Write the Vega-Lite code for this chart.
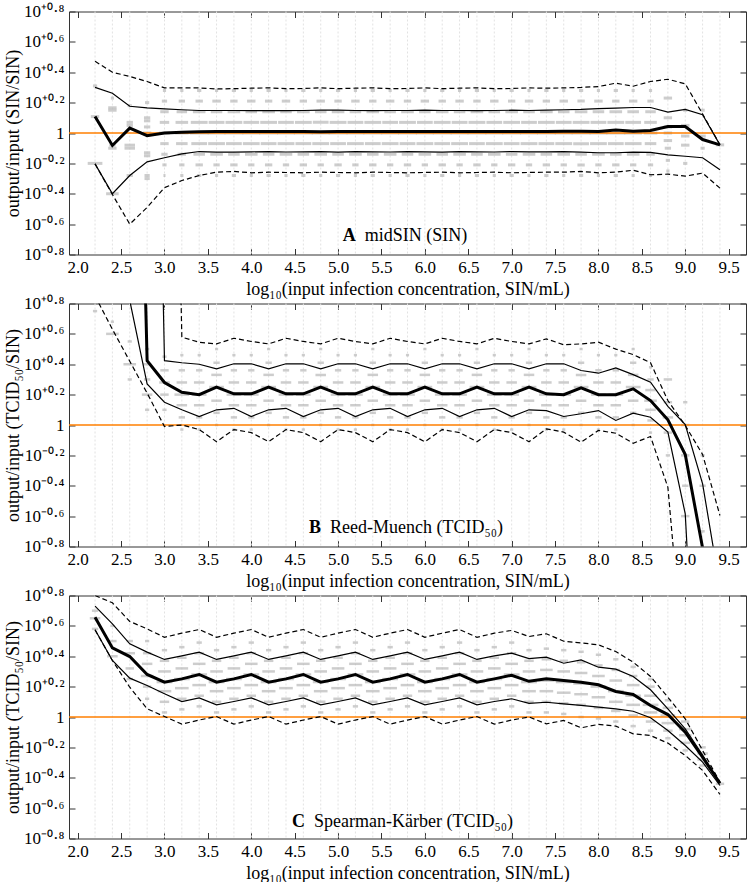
{
"$schema": "https://vega.github.io/schema/vega-lite/v6.json",
"background": "white",
"padding": {"left": 3, "top": 1.5, "right": 1, "bottom": 0},
"bounds": "flush",
"spacing": 49,
"config": {
  "font": "Liberation Serif",
  "view": {"stroke": "#333333", "strokeWidth": 1},
  "axis": {"domain": false, "grid": false, "tickColor": "#333333", "tickSize": -6, "labelFontSize": 17, "titleFontSize": 18, "labelColor": "#000000", "titleColor": "#000000", "titleFontWeight": "normal", "labelFont": "Liberation Serif", "titleFont": "Liberation Serif", "labelOverlap": false, "labelFlush": false}
},
"datasets": {
"L": [
{"p":"A","x":2.2,"a":-0.203,"b":-0.203,"m":0.108,"c":0.3,"d":0.472},
{"p":"A","x":2.4,"a":-0.405,"b":-0.4,"m":-0.082,"c":0.262,"d":0.4},
{"p":"A","x":2.6,"a":-0.6,"b":-0.28,"m":0.032,"c":0.176,"d":0.372},
{"p":"A","x":2.8,"a":-0.49,"b":-0.19,"m":-0.018,"c":0.166,"d":0.339},
{"p":"A","x":3.0,"a":-0.36,"b":-0.163,"m":0.0,"c":0.159,"d":0.297},
{"p":"A","x":3.2,"a":-0.313,"b":-0.137,"m":0.005,"c":0.153,"d":0.297},
{"p":"A","x":3.4,"a":-0.28,"b":-0.122,"m":0.008,"c":0.148,"d":0.297},
{"p":"A","x":3.6,"a":-0.258,"b":-0.126,"m":0.01,"c":0.148,"d":0.29},
{"p":"A","x":3.8,"a":-0.253,"b":-0.126,"m":0.01,"c":0.148,"d":0.292},
{"p":"A","x":4.0,"a":-0.262,"b":-0.124,"m":0.01,"c":0.147,"d":0.295},
{"p":"A","x":4.2,"a":-0.258,"b":-0.122,"m":0.01,"c":0.147,"d":0.297},
{"p":"A","x":4.4,"a":-0.26,"b":-0.125,"m":0.01,"c":0.147,"d":0.292},
{"p":"A","x":4.6,"a":-0.262,"b":-0.124,"m":0.01,"c":0.148,"d":0.293},
{"p":"A","x":4.8,"a":-0.258,"b":-0.122,"m":0.009,"c":0.15,"d":0.297},
{"p":"A","x":5.0,"a":-0.26,"b":-0.126,"m":0.01,"c":0.15,"d":0.292},
{"p":"A","x":5.2,"a":-0.262,"b":-0.122,"m":0.01,"c":0.148,"d":0.295},
{"p":"A","x":5.4,"a":-0.258,"b":-0.124,"m":0.01,"c":0.147,"d":0.297},
{"p":"A","x":5.6,"a":-0.26,"b":-0.125,"m":0.01,"c":0.148,"d":0.292},
{"p":"A","x":5.8,"a":-0.262,"b":-0.122,"m":0.01,"c":0.148,"d":0.293},
{"p":"A","x":6.0,"a":-0.26,"b":-0.124,"m":0.01,"c":0.15,"d":0.297},
{"p":"A","x":6.2,"a":-0.258,"b":-0.126,"m":0.01,"c":0.148,"d":0.292},
{"p":"A","x":6.4,"a":-0.262,"b":-0.122,"m":0.01,"c":0.148,"d":0.295},
{"p":"A","x":6.6,"a":-0.26,"b":-0.124,"m":0.01,"c":0.147,"d":0.297},
{"p":"A","x":6.8,"a":-0.258,"b":-0.125,"m":0.01,"c":0.148,"d":0.292},
{"p":"A","x":7.0,"a":-0.262,"b":-0.122,"m":0.01,"c":0.15,"d":0.293},
{"p":"A","x":7.2,"a":-0.26,"b":-0.124,"m":0.01,"c":0.148,"d":0.297},
{"p":"A","x":7.4,"a":-0.258,"b":-0.124,"m":0.01,"c":0.15,"d":0.295},
{"p":"A","x":7.6,"a":-0.258,"b":-0.122,"m":0.012,"c":0.153,"d":0.297},
{"p":"A","x":7.8,"a":-0.253,"b":-0.126,"m":0.012,"c":0.155,"d":0.3},
{"p":"A","x":8.0,"a":-0.262,"b":-0.13,"m":0.01,"c":0.16,"d":0.306},
{"p":"A","x":8.2,"a":-0.258,"b":-0.13,"m":0.02,"c":0.164,"d":0.328},
{"p":"A","x":8.4,"a":-0.245,"b":-0.126,"m":0.012,"c":0.168,"d":0.308},
{"p":"A","x":8.6,"a":-0.275,"b":-0.128,"m":0.016,"c":0.168,"d":0.339},
{"p":"A","x":8.8,"a":-0.271,"b":-0.144,"m":0.043,"c":0.137,"d":0.354},
{"p":"A","x":9.0,"a":-0.284,"b":-0.153,"m":0.043,"c":0.155,"d":0.324},
{"p":"A","x":9.2,"a":-0.264,"b":-0.163,"m":-0.043,"c":0.12,"d":0.125},
{"p":"A","x":9.4,"a":-0.363,"b":-0.242,"m":-0.078,"c":-0.078,"d":-0.078},
{"p":"B","x":2.2,"a":0.85,"b":3,"m":6,"c":6,"d":6},
{"p":"B","x":2.4,"a":0.63,"b":2.5,"m":6,"c":6,"d":6},
{"p":"B","x":2.6,"a":0.42,"b":0.82,"m":5,"c":6,"d":6},
{"p":"B","x":2.8,"a":0.21,"b":0.27,"m":0.424,"c":6,"d":6},
{"p":"B","x":3.0,"a":-0.01,"b":0.15,"m":0.28,"c":0.424,"d":6},
{"p":"B","x":3.2,"a":0.0,"b":0.1,"m":0.215,"c":0.41,"d":0.578},
{"p":"B","x":3.4,"a":-0.03,"b":0.056,"m":0.2,"c":0.4,"d":0.545},
{"p":"B","x":3.6,"a":-0.11,"b":0.1,"m":0.25,"c":0.37,"d":0.534},
{"p":"B","x":3.8,"a":-0.03,"b":0.11,"m":0.205,"c":0.403,"d":0.571},
{"p":"B","x":4.0,"a":-0.05,"b":0.056,"m":0.205,"c":0.403,"d":0.55},
{"p":"B","x":4.2,"a":-0.11,"b":0.1,"m":0.249,"c":0.37,"d":0.534},
{"p":"B","x":4.4,"a":-0.03,"b":0.11,"m":0.205,"c":0.403,"d":0.571},
{"p":"B","x":4.6,"a":-0.05,"b":0.056,"m":0.205,"c":0.403,"d":0.55},
{"p":"B","x":4.8,"a":-0.11,"b":0.1,"m":0.249,"c":0.37,"d":0.534},
{"p":"B","x":5.0,"a":-0.03,"b":0.11,"m":0.205,"c":0.403,"d":0.571},
{"p":"B","x":5.2,"a":-0.05,"b":0.056,"m":0.205,"c":0.403,"d":0.55},
{"p":"B","x":5.4,"a":-0.11,"b":0.1,"m":0.249,"c":0.37,"d":0.534},
{"p":"B","x":5.6,"a":-0.03,"b":0.11,"m":0.205,"c":0.403,"d":0.571},
{"p":"B","x":5.8,"a":-0.05,"b":0.056,"m":0.205,"c":0.403,"d":0.55},
{"p":"B","x":6.0,"a":-0.11,"b":0.1,"m":0.249,"c":0.37,"d":0.534},
{"p":"B","x":6.2,"a":-0.03,"b":0.11,"m":0.205,"c":0.403,"d":0.571},
{"p":"B","x":6.4,"a":-0.05,"b":0.056,"m":0.205,"c":0.403,"d":0.55},
{"p":"B","x":6.6,"a":-0.11,"b":0.1,"m":0.249,"c":0.37,"d":0.534},
{"p":"B","x":6.8,"a":-0.03,"b":0.11,"m":0.205,"c":0.403,"d":0.571},
{"p":"B","x":7.0,"a":-0.05,"b":0.056,"m":0.205,"c":0.403,"d":0.55},
{"p":"B","x":7.2,"a":-0.11,"b":0.1,"m":0.249,"c":0.37,"d":0.534},
{"p":"B","x":7.4,"a":-0.025,"b":0.095,"m":0.205,"c":0.403,"d":0.567},
{"p":"B","x":7.6,"a":-0.047,"b":0.056,"m":0.2,"c":0.403,"d":0.528},
{"p":"B","x":7.8,"a":-0.113,"b":0.074,"m":0.245,"c":0.359,"d":0.534},
{"p":"B","x":8.0,"a":-0.036,"b":0.095,"m":0.2,"c":0.341,"d":0.545},
{"p":"B","x":8.2,"a":-0.054,"b":0.03,"m":0.2,"c":0.376,"d":0.5},
{"p":"B","x":8.4,"a":-0.12,"b":0.078,"m":0.238,"c":0.332,"d":0.464},
{"p":"B","x":8.6,"a":-0.076,"b":0.051,"m":0.161,"c":0.282,"d":0.41},
{"p":"B","x":8.8,"a":-0.41,"b":-0.047,"m":0.034,"c":0.122,"d":0.161},
{"p":"B","x":9.0,"a":-1.7,"b":-0.585,"m":-0.194,"c":0.003,"d":-0.003},
{"p":"B","x":9.2,"a":-4,"b":-2.7,"m":-0.81,"c":-0.387,"d":-0.194},
{"p":"B","x":9.4,"a":-6,"b":-5,"m":-2,"c":-1.07,"d":-0.596},
{"p":"C","x":2.2,"a":0.574,"b":0.574,"m":0.657,"c":0.73,"d":0.8},
{"p":"C","x":2.4,"a":0.372,"b":0.372,"m":0.455,"c":0.613,"d":0.752},
{"p":"C","x":2.6,"a":0.196,"b":0.256,"m":0.398,"c":0.482,"d":0.629},
{"p":"C","x":2.8,"a":0.054,"b":0.207,"m":0.28,"c":0.427,"d":0.58},
{"p":"C","x":3.0,"a":0.003,"b":0.153,"m":0.229,"c":0.379,"d":0.525},
{"p":"C","x":3.2,"a":-0.047,"b":0.102,"m":0.251,"c":0.403,"d":0.552},
{"p":"C","x":3.4,"a":-0.02,"b":0.126,"m":0.28,"c":0.427,"d":0.576},
{"p":"C","x":3.6,"a":0.003,"b":0.08,"m":0.229,"c":0.379,"d":0.525},
{"p":"C","x":3.8,"a":-0.047,"b":0.102,"m":0.251,"c":0.403,"d":0.552},
{"p":"C","x":4.0,"a":-0.02,"b":0.126,"m":0.28,"c":0.427,"d":0.576},
{"p":"C","x":4.2,"a":0.003,"b":0.08,"m":0.229,"c":0.379,"d":0.525},
{"p":"C","x":4.4,"a":-0.047,"b":0.102,"m":0.251,"c":0.403,"d":0.552},
{"p":"C","x":4.6,"a":-0.02,"b":0.126,"m":0.28,"c":0.427,"d":0.576},
{"p":"C","x":4.8,"a":0.003,"b":0.08,"m":0.229,"c":0.379,"d":0.525},
{"p":"C","x":5.0,"a":-0.047,"b":0.102,"m":0.251,"c":0.403,"d":0.552},
{"p":"C","x":5.2,"a":-0.02,"b":0.126,"m":0.28,"c":0.427,"d":0.576},
{"p":"C","x":5.4,"a":0.003,"b":0.08,"m":0.229,"c":0.379,"d":0.525},
{"p":"C","x":5.6,"a":-0.047,"b":0.102,"m":0.251,"c":0.403,"d":0.552},
{"p":"C","x":5.8,"a":-0.02,"b":0.126,"m":0.28,"c":0.427,"d":0.576},
{"p":"C","x":6.0,"a":0.003,"b":0.08,"m":0.229,"c":0.379,"d":0.525},
{"p":"C","x":6.2,"a":-0.047,"b":0.102,"m":0.251,"c":0.403,"d":0.552},
{"p":"C","x":6.4,"a":-0.02,"b":0.126,"m":0.28,"c":0.427,"d":0.576},
{"p":"C","x":6.6,"a":0.003,"b":0.08,"m":0.229,"c":0.379,"d":0.525},
{"p":"C","x":6.8,"a":-0.047,"b":0.102,"m":0.251,"c":0.403,"d":0.552},
{"p":"C","x":7.0,"a":-0.02,"b":0.12,"m":0.275,"c":0.42,"d":0.57},
{"p":"C","x":7.2,"a":0.0,"b":0.09,"m":0.235,"c":0.385,"d":0.53},
{"p":"C","x":7.4,"a":-0.045,"b":0.097,"m":0.251,"c":0.394,"d":0.548},
{"p":"C","x":7.6,"a":-0.023,"b":0.087,"m":0.24,"c":0.354,"d":0.499},
{"p":"C","x":7.8,"a":-0.071,"b":0.076,"m":0.229,"c":0.376,"d":0.488},
{"p":"C","x":8.0,"a":-0.049,"b":0.065,"m":0.212,"c":0.328,"d":0.475},
{"p":"C","x":8.2,"a":-0.06,"b":0.054,"m":0.168,"c":0.315,"d":0.431},
{"p":"C","x":8.4,"a":-0.111,"b":0.038,"m":0.148,"c":0.267,"d":0.361},
{"p":"C","x":8.6,"a":-0.122,"b":-0.005,"m":0.076,"c":0.179,"d":0.267},
{"p":"C","x":8.8,"a":-0.172,"b":-0.089,"m":0.016,"c":0.054,"d":0.13},
{"p":"C","x":9.0,"a":-0.253,"b":-0.188,"m":-0.1,"c":-0.078,"d":-0.012},
{"p":"C","x":9.2,"a":-0.352,"b":-0.297,"m":-0.265,"c":-0.25,"d":-0.22},
{"p":"C","x":9.4,"a":-0.51,"b":-0.451,"m":-0.436,"c":-0.436,"d":-0.429}
],
"T": [
{"p":"A","x":5.25,"y":-0.68,"b":"A","t":"midSIN (SIN)"},
{"p":"B","x":4.85,"y":-0.675,"b":"B","t":"Reed-Muench (TCID₅₀)"},
{"p":"C","x":4.665,"y":-0.69,"b":"C","t":"Spearman-Kärber (TCID₅₀)"}
],
"dA": [
{"x":2.2,"y":0.31,"n":4},{"x":2.2,"y":0.108,"n":8},{"x":2.2,"y":-0.2,"n":14},
{"x":2.4,"y":0.23,"n":3},{"x":2.4,"y":0.166,"n":8},{"x":2.4,"y":0.15,"n":8},{"x":2.4,"y":-0.08,"n":6},{"x":2.4,"y":-0.1,"n":8},{"x":2.4,"y":-0.4,"n":12},
{"x":2.6,"y":0.18,"n":4},{"x":2.6,"y":0.07,"n":6},{"x":2.6,"y":0.05,"n":6},{"x":2.6,"y":-0.08,"n":10},{"x":2.6,"y":-0.1,"n":10},{"x":2.6,"y":-0.28,"n":6},
{"x":2.8,"y":0.2,"n":4},{"x":2.8,"y":0.1,"n":6},{"x":2.8,"y":0.08,"n":6},{"x":2.8,"y":0.04,"n":6},{"x":2.8,"y":0,"n":8},{"x":2.8,"y":-0.13,"n":6},{"x":2.8,"y":-0.15,"n":6},{"x":2.8,"y":-0.28,"n":5},{"x":2.8,"y":-0.3,"n":5},
{"x":3.0,"y":-0.28,"n":2},{"x":3.0,"y":-0.21,"n":4},{"x":3.0,"y":-0.14,"n":6},{"x":3.0,"y":-0.07,"n":8},{"x":3.0,"y":0,"n":10},{"x":3.0,"y":0.07,"n":9},{"x":3.0,"y":0.14,"n":8},{"x":3.0,"y":0.21,"n":5},{"x":3.0,"y":0.28,"n":3},
{"x":3.2,"y":-0.28,"n":3},{"x":3.2,"y":-0.21,"n":5},{"x":3.2,"y":-0.14,"n":8},{"x":3.2,"y":-0.07,"n":11},{"x":3.2,"y":0,"n":13},{"x":3.2,"y":0.07,"n":12},{"x":3.2,"y":0.14,"n":10},{"x":3.2,"y":0.21,"n":6},{"x":3.2,"y":0.28,"n":3},
{"x":3.4,"y":-0.28,"n":4},{"x":3.4,"y":-0.21,"n":7},{"x":3.4,"y":-0.14,"n":11},{"x":3.4,"y":-0.07,"n":15},{"x":3.4,"y":0,"n":18},{"x":3.4,"y":0.07,"n":16},{"x":3.4,"y":0.14,"n":12},{"x":3.4,"y":0.21,"n":7},{"x":3.4,"y":0.28,"n":4},
{"x":3.6,"y":-0.28,"n":3},{"x":3.6,"y":-0.21,"n":6},{"x":3.6,"y":-0.14,"n":12},{"x":3.6,"y":-0.07,"n":16},{"x":3.6,"y":0,"n":17},{"x":3.6,"y":0.07,"n":15},{"x":3.6,"y":0.14,"n":11},{"x":3.6,"y":0.21,"n":8},{"x":3.6,"y":0.28,"n":3},
{"x":3.8,"y":-0.28,"n":4},{"x":3.8,"y":-0.21,"n":7},{"x":3.8,"y":-0.14,"n":11},{"x":3.8,"y":-0.07,"n":15},{"x":3.8,"y":0,"n":18},{"x":3.8,"y":0.07,"n":16},{"x":3.8,"y":0.14,"n":12},{"x":3.8,"y":0.21,"n":7},{"x":3.8,"y":0.28,"n":4},
{"x":4.0,"y":-0.28,"n":3},{"x":4.0,"y":-0.21,"n":6},{"x":4.0,"y":-0.14,"n":12},{"x":4.0,"y":-0.07,"n":16},{"x":4.0,"y":0,"n":17},{"x":4.0,"y":0.07,"n":15},{"x":4.0,"y":0.14,"n":11},{"x":4.0,"y":0.21,"n":8},{"x":4.0,"y":0.28,"n":3},
{"x":4.2,"y":-0.28,"n":4},{"x":4.2,"y":-0.21,"n":7},{"x":4.2,"y":-0.14,"n":11},{"x":4.2,"y":-0.07,"n":15},{"x":4.2,"y":0,"n":18},{"x":4.2,"y":0.07,"n":16},{"x":4.2,"y":0.14,"n":12},{"x":4.2,"y":0.21,"n":7},{"x":4.2,"y":0.28,"n":4},
{"x":4.4,"y":-0.28,"n":3},{"x":4.4,"y":-0.21,"n":6},{"x":4.4,"y":-0.14,"n":12},{"x":4.4,"y":-0.07,"n":16},{"x":4.4,"y":0,"n":17},{"x":4.4,"y":0.07,"n":15},{"x":4.4,"y":0.14,"n":11},{"x":4.4,"y":0.21,"n":8},{"x":4.4,"y":0.28,"n":3},
{"x":4.6,"y":-0.28,"n":4},{"x":4.6,"y":-0.21,"n":7},{"x":4.6,"y":-0.14,"n":11},{"x":4.6,"y":-0.07,"n":15},{"x":4.6,"y":0,"n":18},{"x":4.6,"y":0.07,"n":16},{"x":4.6,"y":0.14,"n":12},{"x":4.6,"y":0.21,"n":7},{"x":4.6,"y":0.28,"n":4},
{"x":4.8,"y":-0.28,"n":3},{"x":4.8,"y":-0.21,"n":6},{"x":4.8,"y":-0.14,"n":12},{"x":4.8,"y":-0.07,"n":16},{"x":4.8,"y":0,"n":17},{"x":4.8,"y":0.07,"n":15},{"x":4.8,"y":0.14,"n":11},{"x":4.8,"y":0.21,"n":8},{"x":4.8,"y":0.28,"n":3},
{"x":5.0,"y":-0.28,"n":4},{"x":5.0,"y":-0.21,"n":7},{"x":5.0,"y":-0.14,"n":11},{"x":5.0,"y":-0.07,"n":15},{"x":5.0,"y":0,"n":18},{"x":5.0,"y":0.07,"n":16},{"x":5.0,"y":0.14,"n":12},{"x":5.0,"y":0.21,"n":7},{"x":5.0,"y":0.28,"n":4},
{"x":5.2,"y":-0.28,"n":3},{"x":5.2,"y":-0.21,"n":6},{"x":5.2,"y":-0.14,"n":12},{"x":5.2,"y":-0.07,"n":16},{"x":5.2,"y":0,"n":17},{"x":5.2,"y":0.07,"n":15},{"x":5.2,"y":0.14,"n":11},{"x":5.2,"y":0.21,"n":8},{"x":5.2,"y":0.28,"n":3},
{"x":5.4,"y":-0.28,"n":4},{"x":5.4,"y":-0.21,"n":7},{"x":5.4,"y":-0.14,"n":11},{"x":5.4,"y":-0.07,"n":15},{"x":5.4,"y":0,"n":18},{"x":5.4,"y":0.07,"n":16},{"x":5.4,"y":0.14,"n":12},{"x":5.4,"y":0.21,"n":7},{"x":5.4,"y":0.28,"n":4},
{"x":5.6,"y":-0.28,"n":3},{"x":5.6,"y":-0.21,"n":6},{"x":5.6,"y":-0.14,"n":12},{"x":5.6,"y":-0.07,"n":16},{"x":5.6,"y":0,"n":17},{"x":5.6,"y":0.07,"n":15},{"x":5.6,"y":0.14,"n":11},{"x":5.6,"y":0.21,"n":8},{"x":5.6,"y":0.28,"n":3},
{"x":5.8,"y":-0.28,"n":4},{"x":5.8,"y":-0.21,"n":7},{"x":5.8,"y":-0.14,"n":11},{"x":5.8,"y":-0.07,"n":15},{"x":5.8,"y":0,"n":18},{"x":5.8,"y":0.07,"n":16},{"x":5.8,"y":0.14,"n":12},{"x":5.8,"y":0.21,"n":7},{"x":5.8,"y":0.28,"n":4},
{"x":6.0,"y":-0.28,"n":3},{"x":6.0,"y":-0.21,"n":6},{"x":6.0,"y":-0.14,"n":12},{"x":6.0,"y":-0.07,"n":16},{"x":6.0,"y":0,"n":17},{"x":6.0,"y":0.07,"n":15},{"x":6.0,"y":0.14,"n":11},{"x":6.0,"y":0.21,"n":8},{"x":6.0,"y":0.28,"n":3},
{"x":6.2,"y":-0.28,"n":4},{"x":6.2,"y":-0.21,"n":7},{"x":6.2,"y":-0.14,"n":11},{"x":6.2,"y":-0.07,"n":15},{"x":6.2,"y":0,"n":18},{"x":6.2,"y":0.07,"n":16},{"x":6.2,"y":0.14,"n":12},{"x":6.2,"y":0.21,"n":7},{"x":6.2,"y":0.28,"n":4},
{"x":6.4,"y":-0.28,"n":3},{"x":6.4,"y":-0.21,"n":6},{"x":6.4,"y":-0.14,"n":12},{"x":6.4,"y":-0.07,"n":16},{"x":6.4,"y":0,"n":17},{"x":6.4,"y":0.07,"n":15},{"x":6.4,"y":0.14,"n":11},{"x":6.4,"y":0.21,"n":8},{"x":6.4,"y":0.28,"n":3},
{"x":6.6,"y":-0.28,"n":4},{"x":6.6,"y":-0.21,"n":7},{"x":6.6,"y":-0.14,"n":11},{"x":6.6,"y":-0.07,"n":15},{"x":6.6,"y":0,"n":18},{"x":6.6,"y":0.07,"n":16},{"x":6.6,"y":0.14,"n":12},{"x":6.6,"y":0.21,"n":7},{"x":6.6,"y":0.28,"n":4},
{"x":6.8,"y":-0.28,"n":3},{"x":6.8,"y":-0.21,"n":6},{"x":6.8,"y":-0.14,"n":12},{"x":6.8,"y":-0.07,"n":16},{"x":6.8,"y":0,"n":17},{"x":6.8,"y":0.07,"n":15},{"x":6.8,"y":0.14,"n":11},{"x":6.8,"y":0.21,"n":8},{"x":6.8,"y":0.28,"n":3},
{"x":7.0,"y":-0.28,"n":4},{"x":7.0,"y":-0.21,"n":7},{"x":7.0,"y":-0.14,"n":11},{"x":7.0,"y":-0.07,"n":15},{"x":7.0,"y":0,"n":18},{"x":7.0,"y":0.07,"n":16},{"x":7.0,"y":0.14,"n":12},{"x":7.0,"y":0.21,"n":7},{"x":7.0,"y":0.28,"n":4},
{"x":7.2,"y":-0.28,"n":3},{"x":7.2,"y":-0.21,"n":6},{"x":7.2,"y":-0.14,"n":12},{"x":7.2,"y":-0.07,"n":16},{"x":7.2,"y":0,"n":17},{"x":7.2,"y":0.07,"n":15},{"x":7.2,"y":0.14,"n":11},{"x":7.2,"y":0.21,"n":8},{"x":7.2,"y":0.28,"n":3},
{"x":7.4,"y":-0.28,"n":4},{"x":7.4,"y":-0.21,"n":7},{"x":7.4,"y":-0.14,"n":11},{"x":7.4,"y":-0.07,"n":15},{"x":7.4,"y":0,"n":18},{"x":7.4,"y":0.07,"n":16},{"x":7.4,"y":0.14,"n":12},{"x":7.4,"y":0.21,"n":7},{"x":7.4,"y":0.28,"n":4},
{"x":7.6,"y":-0.28,"n":3},{"x":7.6,"y":-0.21,"n":6},{"x":7.6,"y":-0.14,"n":12},{"x":7.6,"y":-0.07,"n":16},{"x":7.6,"y":0,"n":17},{"x":7.6,"y":0.07,"n":15},{"x":7.6,"y":0.14,"n":11},{"x":7.6,"y":0.21,"n":8},{"x":7.6,"y":0.28,"n":3},
{"x":7.8,"y":-0.28,"n":4},{"x":7.8,"y":-0.21,"n":7},{"x":7.8,"y":-0.14,"n":11},{"x":7.8,"y":-0.07,"n":15},{"x":7.8,"y":0,"n":18},{"x":7.8,"y":0.07,"n":16},{"x":7.8,"y":0.14,"n":12},{"x":7.8,"y":0.21,"n":7},{"x":7.8,"y":0.28,"n":4},
{"x":8.0,"y":-0.28,"n":3},{"x":8.0,"y":-0.21,"n":6},{"x":8.0,"y":-0.14,"n":12},{"x":8.0,"y":-0.07,"n":16},{"x":8.0,"y":0,"n":17},{"x":8.0,"y":0.07,"n":15},{"x":8.0,"y":0.14,"n":11},{"x":8.0,"y":0.21,"n":8},{"x":8.0,"y":0.28,"n":3},
{"x":8.2,"y":-0.28,"n":4},{"x":8.2,"y":-0.21,"n":7},{"x":8.2,"y":-0.14,"n":11},{"x":8.2,"y":-0.07,"n":15},{"x":8.2,"y":0,"n":18},{"x":8.2,"y":0.07,"n":16},{"x":8.2,"y":0.14,"n":12},{"x":8.2,"y":0.21,"n":7},{"x":8.2,"y":0.28,"n":4},
{"x":8.4,"y":-0.28,"n":3},{"x":8.4,"y":-0.21,"n":6},{"x":8.4,"y":-0.14,"n":12},{"x":8.4,"y":-0.07,"n":16},{"x":8.4,"y":0,"n":17},{"x":8.4,"y":0.07,"n":15},{"x":8.4,"y":0.14,"n":11},{"x":8.4,"y":0.21,"n":8},{"x":8.4,"y":0.28,"n":3},
{"x":8.6,"y":-0.28,"n":3},{"x":8.6,"y":-0.21,"n":5},{"x":8.6,"y":-0.14,"n":8},{"x":8.6,"y":-0.07,"n":11},{"x":8.6,"y":0,"n":13},{"x":8.6,"y":0.07,"n":12},{"x":8.6,"y":0.14,"n":10},{"x":8.6,"y":0.21,"n":6},{"x":8.6,"y":0.28,"n":3},
{"x":8.8,"y":0.23,"n":8},{"x":8.8,"y":0.1,"n":8},{"x":8.8,"y":0.04,"n":8},{"x":8.8,"y":0,"n":8},{"x":8.8,"y":-0.05,"n":8},{"x":8.8,"y":-0.1,"n":6},{"x":8.8,"y":-0.18,"n":4},{"x":8.8,"y":-0.25,"n":3},
{"x":9.0,"y":0.15,"n":4},{"x":9.0,"y":0.05,"n":8},{"x":9.0,"y":-0.02,"n":8},{"x":9.0,"y":-0.08,"n":8},{"x":9.0,"y":-0.2,"n":4},
{"x":9.2,"y":0.15,"n":4},{"x":9.2,"y":-0.02,"n":6},{"x":9.2,"y":-0.1,"n":4},
{"x":9.4,"y":-0.078,"n":8}
],
"dB": [
{"x":2.2,"y":0.75,"n":4},
{"x":2.4,"y":0.68,"n":3},{"x":2.4,"y":0.6,"n":12},
{"x":2.6,"y":0.55,"n":4},{"x":2.6,"y":0.4,"n":12},{"x":2.6,"y":0.3,"n":4},
{"x":2.8,"y":0.5,"n":4},{"x":2.8,"y":0.4,"n":8},{"x":2.8,"y":0.3,"n":6},{"x":2.8,"y":0.2,"n":10},{"x":2.8,"y":0.1,"n":4},
{"x":3.0,"y":0.1,"n":4},{"x":3.0,"y":0.2,"n":8},{"x":3.0,"y":0.28,"n":10},{"x":3.0,"y":0.36,"n":8},{"x":3.0,"y":0.45,"n":4},
{"x":3.2,"y":-0.03,"n":3},{"x":3.2,"y":0.05,"n":6},{"x":3.2,"y":0.13,"n":10},{"x":3.2,"y":0.2,"n":14},{"x":3.2,"y":0.28,"n":10},{"x":3.2,"y":0.36,"n":6},{"x":3.2,"y":0.46,"n":3},
{"x":3.4,"y":-0.03,"n":3},{"x":3.4,"y":0.05,"n":6},{"x":3.4,"y":0.13,"n":10},{"x":3.4,"y":0.2,"n":14},{"x":3.4,"y":0.28,"n":10},{"x":3.4,"y":0.36,"n":6},{"x":3.4,"y":0.46,"n":3},
{"x":3.6,"y":0.0,"n":3},{"x":3.6,"y":0.08,"n":6},{"x":3.6,"y":0.16,"n":10},{"x":3.6,"y":0.25,"n":14},{"x":3.6,"y":0.33,"n":10},{"x":3.6,"y":0.41,"n":6},{"x":3.6,"y":0.5,"n":3},
{"x":3.8,"y":-0.03,"n":3},{"x":3.8,"y":0.05,"n":6},{"x":3.8,"y":0.13,"n":10},{"x":3.8,"y":0.2,"n":14},{"x":3.8,"y":0.28,"n":10},{"x":3.8,"y":0.36,"n":6},{"x":3.8,"y":0.46,"n":3},
{"x":4.0,"y":-0.03,"n":3},{"x":4.0,"y":0.05,"n":6},{"x":4.0,"y":0.13,"n":10},{"x":4.0,"y":0.2,"n":14},{"x":4.0,"y":0.28,"n":10},{"x":4.0,"y":0.36,"n":6},{"x":4.0,"y":0.46,"n":3},
{"x":4.2,"y":0.0,"n":3},{"x":4.2,"y":0.08,"n":6},{"x":4.2,"y":0.16,"n":10},{"x":4.2,"y":0.25,"n":14},{"x":4.2,"y":0.33,"n":10},{"x":4.2,"y":0.41,"n":6},{"x":4.2,"y":0.5,"n":3},
{"x":4.4,"y":-0.03,"n":3},{"x":4.4,"y":0.05,"n":6},{"x":4.4,"y":0.13,"n":10},{"x":4.4,"y":0.2,"n":14},{"x":4.4,"y":0.28,"n":10},{"x":4.4,"y":0.36,"n":6},{"x":4.4,"y":0.46,"n":3},
{"x":4.6,"y":-0.03,"n":3},{"x":4.6,"y":0.05,"n":6},{"x":4.6,"y":0.13,"n":10},{"x":4.6,"y":0.2,"n":14},{"x":4.6,"y":0.28,"n":10},{"x":4.6,"y":0.36,"n":6},{"x":4.6,"y":0.46,"n":3},
{"x":4.8,"y":0.0,"n":3},{"x":4.8,"y":0.08,"n":6},{"x":4.8,"y":0.16,"n":10},{"x":4.8,"y":0.25,"n":14},{"x":4.8,"y":0.33,"n":10},{"x":4.8,"y":0.41,"n":6},{"x":4.8,"y":0.5,"n":3},
{"x":5.0,"y":-0.03,"n":3},{"x":5.0,"y":0.05,"n":6},{"x":5.0,"y":0.13,"n":10},{"x":5.0,"y":0.2,"n":14},{"x":5.0,"y":0.28,"n":10},{"x":5.0,"y":0.36,"n":6},{"x":5.0,"y":0.46,"n":3},
{"x":5.2,"y":-0.03,"n":3},{"x":5.2,"y":0.05,"n":6},{"x":5.2,"y":0.13,"n":10},{"x":5.2,"y":0.2,"n":14},{"x":5.2,"y":0.28,"n":10},{"x":5.2,"y":0.36,"n":6},{"x":5.2,"y":0.46,"n":3},
{"x":5.4,"y":0.0,"n":3},{"x":5.4,"y":0.08,"n":6},{"x":5.4,"y":0.16,"n":10},{"x":5.4,"y":0.25,"n":14},{"x":5.4,"y":0.33,"n":10},{"x":5.4,"y":0.41,"n":6},{"x":5.4,"y":0.5,"n":3},
{"x":5.6,"y":-0.03,"n":3},{"x":5.6,"y":0.05,"n":6},{"x":5.6,"y":0.13,"n":10},{"x":5.6,"y":0.2,"n":14},{"x":5.6,"y":0.28,"n":10},{"x":5.6,"y":0.36,"n":6},{"x":5.6,"y":0.46,"n":3},
{"x":5.8,"y":-0.03,"n":3},{"x":5.8,"y":0.05,"n":6},{"x":5.8,"y":0.13,"n":10},{"x":5.8,"y":0.2,"n":14},{"x":5.8,"y":0.28,"n":10},{"x":5.8,"y":0.36,"n":6},{"x":5.8,"y":0.46,"n":3},
{"x":6.0,"y":0.0,"n":3},{"x":6.0,"y":0.08,"n":6},{"x":6.0,"y":0.16,"n":10},{"x":6.0,"y":0.25,"n":14},{"x":6.0,"y":0.33,"n":10},{"x":6.0,"y":0.41,"n":6},{"x":6.0,"y":0.5,"n":3},
{"x":6.2,"y":-0.03,"n":3},{"x":6.2,"y":0.05,"n":6},{"x":6.2,"y":0.13,"n":10},{"x":6.2,"y":0.2,"n":14},{"x":6.2,"y":0.28,"n":10},{"x":6.2,"y":0.36,"n":6},{"x":6.2,"y":0.46,"n":3},
{"x":6.4,"y":-0.03,"n":3},{"x":6.4,"y":0.05,"n":6},{"x":6.4,"y":0.13,"n":10},{"x":6.4,"y":0.2,"n":14},{"x":6.4,"y":0.28,"n":10},{"x":6.4,"y":0.36,"n":6},{"x":6.4,"y":0.46,"n":3},
{"x":6.6,"y":0.0,"n":3},{"x":6.6,"y":0.08,"n":6},{"x":6.6,"y":0.16,"n":10},{"x":6.6,"y":0.25,"n":14},{"x":6.6,"y":0.33,"n":10},{"x":6.6,"y":0.41,"n":6},{"x":6.6,"y":0.5,"n":3},
{"x":6.8,"y":-0.03,"n":3},{"x":6.8,"y":0.05,"n":6},{"x":6.8,"y":0.13,"n":10},{"x":6.8,"y":0.2,"n":14},{"x":6.8,"y":0.28,"n":10},{"x":6.8,"y":0.36,"n":6},{"x":6.8,"y":0.46,"n":3},
{"x":7.0,"y":-0.03,"n":3},{"x":7.0,"y":0.05,"n":6},{"x":7.0,"y":0.13,"n":10},{"x":7.0,"y":0.2,"n":14},{"x":7.0,"y":0.28,"n":10},{"x":7.0,"y":0.36,"n":6},{"x":7.0,"y":0.46,"n":3},
{"x":7.2,"y":0.0,"n":3},{"x":7.2,"y":0.08,"n":6},{"x":7.2,"y":0.16,"n":10},{"x":7.2,"y":0.25,"n":14},{"x":7.2,"y":0.33,"n":10},{"x":7.2,"y":0.41,"n":6},{"x":7.2,"y":0.5,"n":3},
{"x":7.4,"y":-0.03,"n":3},{"x":7.4,"y":0.05,"n":6},{"x":7.4,"y":0.13,"n":10},{"x":7.4,"y":0.2,"n":14},{"x":7.4,"y":0.28,"n":10},{"x":7.4,"y":0.36,"n":6},{"x":7.4,"y":0.46,"n":3},
{"x":7.6,"y":-0.03,"n":3},{"x":7.6,"y":0.05,"n":6},{"x":7.6,"y":0.13,"n":10},{"x":7.6,"y":0.2,"n":14},{"x":7.6,"y":0.28,"n":10},{"x":7.6,"y":0.36,"n":6},{"x":7.6,"y":0.46,"n":3},
{"x":7.8,"y":0.0,"n":3},{"x":7.8,"y":0.08,"n":6},{"x":7.8,"y":0.16,"n":10},{"x":7.8,"y":0.25,"n":14},{"x":7.8,"y":0.33,"n":10},{"x":7.8,"y":0.41,"n":6},{"x":7.8,"y":0.5,"n":3},
{"x":8.0,"y":-0.03,"n":3},{"x":8.0,"y":0.05,"n":6},{"x":8.0,"y":0.13,"n":10},{"x":8.0,"y":0.2,"n":14},{"x":8.0,"y":0.28,"n":10},{"x":8.0,"y":0.36,"n":6},{"x":8.0,"y":0.46,"n":3},
{"x":8.2,"y":-0.03,"n":3},{"x":8.2,"y":0.05,"n":6},{"x":8.2,"y":0.13,"n":10},{"x":8.2,"y":0.2,"n":14},{"x":8.2,"y":0.28,"n":10},{"x":8.2,"y":0.36,"n":6},{"x":8.2,"y":0.46,"n":3},
{"x":8.4,"y":0.0,"n":3},{"x":8.4,"y":0.08,"n":6},{"x":8.4,"y":0.16,"n":10},{"x":8.4,"y":0.25,"n":14},{"x":8.4,"y":0.33,"n":10},{"x":8.4,"y":0.41,"n":6},{"x":8.4,"y":0.5,"n":3},
{"x":8.6,"y":-0.05,"n":3},{"x":8.6,"y":0.03,"n":6},{"x":8.6,"y":0.1,"n":10},{"x":8.6,"y":0.16,"n":12},{"x":8.6,"y":0.23,"n":10},{"x":8.6,"y":0.3,"n":6},{"x":8.6,"y":0.38,"n":3},
{"x":8.8,"y":0.3,"n":8},{"x":8.8,"y":0.15,"n":8},{"x":8.8,"y":0.05,"n":10},{"x":8.8,"y":-0.05,"n":8},{"x":8.8,"y":-0.2,"n":4},
{"x":9.0,"y":0.15,"n":4},{"x":9.0,"y":0.0,"n":8},{"x":9.0,"y":-0.2,"n":8},{"x":9.0,"y":-0.4,"n":6},{"x":9.0,"y":-0.6,"n":8},
{"x":9.2,"y":-0.2,"n":4},{"x":9.2,"y":-0.4,"n":6},{"x":9.2,"y":-0.7,"n":4}
],
"dC": [
{"x":2.2,"y":0.7,"n":6},{"x":2.2,"y":0.65,"n":10},{"x":2.2,"y":0.58,"n":6},
{"x":2.4,"y":0.6,"n":4},{"x":2.4,"y":0.5,"n":8},{"x":2.4,"y":0.4,"n":10},
{"x":2.6,"y":0.5,"n":6},{"x":2.6,"y":0.42,"n":10},{"x":2.6,"y":0.32,"n":8},{"x":2.6,"y":0.25,"n":6},
{"x":2.8,"y":0.5,"n":4},{"x":2.8,"y":0.42,"n":8},{"x":2.8,"y":0.35,"n":10},{"x":2.8,"y":0.27,"n":12},{"x":2.8,"y":0.2,"n":8},{"x":2.8,"y":0.12,"n":4},
{"x":3.0,"y":0.03,"n":5},{"x":3.0,"y":0.1,"n":9},{"x":3.0,"y":0.17,"n":13},{"x":3.0,"y":0.23,"n":15},{"x":3.0,"y":0.3,"n":12},{"x":3.0,"y":0.37,"n":9},{"x":3.0,"y":0.44,"n":5},
{"x":3.2,"y":0.05,"n":5},{"x":3.2,"y":0.12,"n":9},{"x":3.2,"y":0.19,"n":13},{"x":3.2,"y":0.25,"n":15},{"x":3.2,"y":0.32,"n":12},{"x":3.2,"y":0.39,"n":9},{"x":3.2,"y":0.46,"n":5},
{"x":3.4,"y":0.07,"n":5},{"x":3.4,"y":0.14,"n":9},{"x":3.4,"y":0.21,"n":13},{"x":3.4,"y":0.28,"n":15},{"x":3.4,"y":0.35,"n":12},{"x":3.4,"y":0.42,"n":9},{"x":3.4,"y":0.49,"n":5},
{"x":3.6,"y":0.03,"n":5},{"x":3.6,"y":0.1,"n":9},{"x":3.6,"y":0.17,"n":13},{"x":3.6,"y":0.23,"n":15},{"x":3.6,"y":0.3,"n":12},{"x":3.6,"y":0.37,"n":9},{"x":3.6,"y":0.44,"n":5},
{"x":3.8,"y":0.05,"n":5},{"x":3.8,"y":0.12,"n":9},{"x":3.8,"y":0.19,"n":13},{"x":3.8,"y":0.25,"n":15},{"x":3.8,"y":0.32,"n":12},{"x":3.8,"y":0.39,"n":9},{"x":3.8,"y":0.46,"n":5},
{"x":4.0,"y":0.07,"n":5},{"x":4.0,"y":0.14,"n":9},{"x":4.0,"y":0.21,"n":13},{"x":4.0,"y":0.28,"n":15},{"x":4.0,"y":0.35,"n":12},{"x":4.0,"y":0.42,"n":9},{"x":4.0,"y":0.49,"n":5},
{"x":4.2,"y":0.03,"n":5},{"x":4.2,"y":0.1,"n":9},{"x":4.2,"y":0.17,"n":13},{"x":4.2,"y":0.23,"n":15},{"x":4.2,"y":0.3,"n":12},{"x":4.2,"y":0.37,"n":9},{"x":4.2,"y":0.44,"n":5},
{"x":4.4,"y":0.05,"n":5},{"x":4.4,"y":0.12,"n":9},{"x":4.4,"y":0.19,"n":13},{"x":4.4,"y":0.25,"n":15},{"x":4.4,"y":0.32,"n":12},{"x":4.4,"y":0.39,"n":9},{"x":4.4,"y":0.46,"n":5},
{"x":4.6,"y":0.07,"n":5},{"x":4.6,"y":0.14,"n":9},{"x":4.6,"y":0.21,"n":13},{"x":4.6,"y":0.28,"n":15},{"x":4.6,"y":0.35,"n":12},{"x":4.6,"y":0.42,"n":9},{"x":4.6,"y":0.49,"n":5},
{"x":4.8,"y":0.03,"n":5},{"x":4.8,"y":0.1,"n":9},{"x":4.8,"y":0.17,"n":13},{"x":4.8,"y":0.23,"n":15},{"x":4.8,"y":0.3,"n":12},{"x":4.8,"y":0.37,"n":9},{"x":4.8,"y":0.44,"n":5},
{"x":5.0,"y":0.05,"n":5},{"x":5.0,"y":0.12,"n":9},{"x":5.0,"y":0.19,"n":13},{"x":5.0,"y":0.25,"n":15},{"x":5.0,"y":0.32,"n":12},{"x":5.0,"y":0.39,"n":9},{"x":5.0,"y":0.46,"n":5},
{"x":5.2,"y":0.07,"n":5},{"x":5.2,"y":0.14,"n":9},{"x":5.2,"y":0.21,"n":13},{"x":5.2,"y":0.28,"n":15},{"x":5.2,"y":0.35,"n":12},{"x":5.2,"y":0.42,"n":9},{"x":5.2,"y":0.49,"n":5},
{"x":5.4,"y":0.03,"n":5},{"x":5.4,"y":0.1,"n":9},{"x":5.4,"y":0.17,"n":13},{"x":5.4,"y":0.23,"n":15},{"x":5.4,"y":0.3,"n":12},{"x":5.4,"y":0.37,"n":9},{"x":5.4,"y":0.44,"n":5},
{"x":5.6,"y":0.05,"n":5},{"x":5.6,"y":0.12,"n":9},{"x":5.6,"y":0.19,"n":13},{"x":5.6,"y":0.25,"n":15},{"x":5.6,"y":0.32,"n":12},{"x":5.6,"y":0.39,"n":9},{"x":5.6,"y":0.46,"n":5},
{"x":5.8,"y":0.07,"n":5},{"x":5.8,"y":0.14,"n":9},{"x":5.8,"y":0.21,"n":13},{"x":5.8,"y":0.28,"n":15},{"x":5.8,"y":0.35,"n":12},{"x":5.8,"y":0.42,"n":9},{"x":5.8,"y":0.49,"n":5},
{"x":6.0,"y":0.03,"n":5},{"x":6.0,"y":0.1,"n":9},{"x":6.0,"y":0.17,"n":13},{"x":6.0,"y":0.23,"n":15},{"x":6.0,"y":0.3,"n":12},{"x":6.0,"y":0.37,"n":9},{"x":6.0,"y":0.44,"n":5},
{"x":6.2,"y":0.05,"n":5},{"x":6.2,"y":0.12,"n":9},{"x":6.2,"y":0.19,"n":13},{"x":6.2,"y":0.25,"n":15},{"x":6.2,"y":0.32,"n":12},{"x":6.2,"y":0.39,"n":9},{"x":6.2,"y":0.46,"n":5},
{"x":6.4,"y":0.07,"n":5},{"x":6.4,"y":0.14,"n":9},{"x":6.4,"y":0.21,"n":13},{"x":6.4,"y":0.28,"n":15},{"x":6.4,"y":0.35,"n":12},{"x":6.4,"y":0.42,"n":9},{"x":6.4,"y":0.49,"n":5},
{"x":6.6,"y":0.03,"n":5},{"x":6.6,"y":0.1,"n":9},{"x":6.6,"y":0.17,"n":13},{"x":6.6,"y":0.23,"n":15},{"x":6.6,"y":0.3,"n":12},{"x":6.6,"y":0.37,"n":9},{"x":6.6,"y":0.44,"n":5},
{"x":6.8,"y":0.05,"n":5},{"x":6.8,"y":0.12,"n":9},{"x":6.8,"y":0.19,"n":13},{"x":6.8,"y":0.25,"n":15},{"x":6.8,"y":0.32,"n":12},{"x":6.8,"y":0.39,"n":9},{"x":6.8,"y":0.46,"n":5},
{"x":7.0,"y":0.07,"n":5},{"x":7.0,"y":0.14,"n":9},{"x":7.0,"y":0.21,"n":13},{"x":7.0,"y":0.28,"n":15},{"x":7.0,"y":0.35,"n":12},{"x":7.0,"y":0.42,"n":9},{"x":7.0,"y":0.49,"n":5},
{"x":7.2,"y":0.03,"n":5},{"x":7.2,"y":0.1,"n":9},{"x":7.2,"y":0.17,"n":13},{"x":7.2,"y":0.23,"n":15},{"x":7.2,"y":0.3,"n":12},{"x":7.2,"y":0.37,"n":9},{"x":7.2,"y":0.44,"n":5},
{"x":7.4,"y":0.03,"n":5},{"x":7.4,"y":0.1,"n":9},{"x":7.4,"y":0.17,"n":13},{"x":7.4,"y":0.24,"n":15},{"x":7.4,"y":0.31,"n":12},{"x":7.4,"y":0.38,"n":9},{"x":7.4,"y":0.45,"n":5},
{"x":7.6,"y":0.02,"n":5},{"x":7.6,"y":0.09,"n":9},{"x":7.6,"y":0.16,"n":13},{"x":7.6,"y":0.23,"n":15},{"x":7.6,"y":0.3,"n":12},{"x":7.6,"y":0.37,"n":8},{"x":7.6,"y":0.44,"n":5},
{"x":7.8,"y":0.0,"n":5},{"x":7.8,"y":0.08,"n":9},{"x":7.8,"y":0.15,"n":13},{"x":7.8,"y":0.22,"n":15},{"x":7.8,"y":0.29,"n":12},{"x":7.8,"y":0.36,"n":8},{"x":7.8,"y":0.43,"n":5},
{"x":8.0,"y":-0.01,"n":5},{"x":8.0,"y":0.06,"n":9},{"x":8.0,"y":0.13,"n":13},{"x":8.0,"y":0.2,"n":15},{"x":8.0,"y":0.27,"n":12},{"x":8.0,"y":0.34,"n":8},{"x":8.0,"y":0.41,"n":5},
{"x":8.2,"y":-0.03,"n":5},{"x":8.2,"y":0.04,"n":9},{"x":8.2,"y":0.1,"n":13},{"x":8.2,"y":0.17,"n":15},{"x":8.2,"y":0.24,"n":12},{"x":8.2,"y":0.31,"n":8},{"x":8.2,"y":0.38,"n":5},
{"x":8.4,"y":-0.06,"n":5},{"x":8.4,"y":0.01,"n":9},{"x":8.4,"y":0.08,"n":13},{"x":8.4,"y":0.14,"n":15},{"x":8.4,"y":0.21,"n":12},{"x":8.4,"y":0.27,"n":8},{"x":8.4,"y":0.33,"n":5},
{"x":8.6,"y":-0.09,"n":5},{"x":8.6,"y":-0.03,"n":9},{"x":8.6,"y":0.03,"n":13},{"x":8.6,"y":0.08,"n":15},{"x":8.6,"y":0.14,"n":12},{"x":8.6,"y":0.2,"n":8},{"x":8.6,"y":0.25,"n":5},
{"x":8.8,"y":-0.14,"n":5},{"x":8.8,"y":-0.09,"n":9},{"x":8.8,"y":-0.04,"n":12},{"x":8.8,"y":0.01,"n":14},{"x":8.8,"y":0.06,"n":10},{"x":8.8,"y":0.11,"n":6},
{"x":9.0,"y":-0.22,"n":5},{"x":9.0,"y":-0.17,"n":9},{"x":9.0,"y":-0.12,"n":12},{"x":9.0,"y":-0.08,"n":12},{"x":9.0,"y":-0.03,"n":8},
{"x":9.2,"y":-0.32,"n":6},{"x":9.2,"y":-0.28,"n":10},{"x":9.2,"y":-0.24,"n":10},{"x":9.2,"y":-0.2,"n":6},
{"x":9.4,"y":-0.44,"n":8}
]
},
"vconcat": [
{
 "width": 677, "height": 243,
 "resolve": {"axis": {"x": "independent", "y": "independent"}},
 "layer": [
  {"data": {"name": "L"}, "transform": [{"filter": "datum.p=='A'"}],
   "mark": {"type": "rule", "color": "#e2e2e2", "strokeWidth": 1, "strokeDash": [2, 2]},
   "encoding": {"x": {"field": "x", "type": "quantitative", "scale": {"domain": [1.9, 9.7], "nice": false, "zero": false},
     "axis": {"orient": "bottom", "values": [2,2.5,3,3.5,4,4.5,5,5.5,6,6.5,7,7.5,8,8.5,9,9.5], "format": ".1f", "title": "log₁₀(input infection concentration, SIN/mL)", "labelPadding": 11, "titlePadding": 5}}}},
  {"data": {"name": "dA"},
   "mark": {"type": "tick", "orient": "horizontal", "color": "#b8b8b8", "thickness": 3},
   "encoding": {"x": {"field": "x", "type": "quantitative", "scale": {"domain": [1.9, 9.7], "nice": false, "zero": false}, "axis": null},
     "y": {"field": "y", "type": "quantitative", "scale": {"domain": [-0.8, 0.8], "nice": false, "zero": false}, "axis": null},
     "size": {"field": "n", "type": "quantitative", "scale": {"domain": [0, 20], "range": [0, 21]}, "legend": null}}},
  {"data": {"values": [{"z": 0}]},
   "mark": {"type": "rule", "color": "#ff7f00", "strokeWidth": 1.5},
   "encoding": {"y": {"field": "z", "type": "quantitative", "scale": {"domain": [-0.8, 0.8], "nice": false, "zero": false},
     "axis": {"orient": "left", "values": [-0.8,-0.6,-0.4,-0.2,0,0.2,0.4,0.6,0.8], "title": "output/input (SIN/SIN)", "labelPadding": 11, "titlePadding": 1,
       "labelExpr": "datum.value==0?'1':'10'+(datum.value>0?'⁺':'⁻')+'⁰·'+(abs(datum.value)>0.7?'⁸':abs(datum.value)>0.5?'⁶':abs(datum.value)>0.3?'⁴':'²')"}}}},
  {"data": {"name": "L"}, "transform": [{"filter": "datum.p=='A'"}],
   "mark": {"type": "line", "color": "black", "strokeWidth": 1.2, "strokeDash": [5, 3], "clip": true},
   "encoding": {"x": {"field": "x", "type": "quantitative", "scale": {"domain": [1.9, 9.7], "nice": false, "zero": false}, "axis": null},
     "y": {"field": "a", "type": "quantitative", "scale": {"domain": [-0.8, 0.8], "nice": false, "zero": false}, "axis": null}}},
  {"data": {"name": "L"}, "transform": [{"filter": "datum.p=='A'"}],
   "mark": {"type": "line", "color": "black", "strokeWidth": 1.2, "strokeDash": [5, 3], "clip": true},
   "encoding": {"x": {"field": "x", "type": "quantitative", "scale": {"domain": [1.9, 9.7], "nice": false, "zero": false}, "axis": null},
     "y": {"field": "d", "type": "quantitative", "scale": {"domain": [-0.8, 0.8], "nice": false, "zero": false}, "axis": null}}},
  {"data": {"name": "L"}, "transform": [{"filter": "datum.p=='A'"}],
   "mark": {"type": "line", "color": "black", "strokeWidth": 1.2, "clip": true},
   "encoding": {"x": {"field": "x", "type": "quantitative", "scale": {"domain": [1.9, 9.7], "nice": false, "zero": false}, "axis": null},
     "y": {"field": "b", "type": "quantitative", "scale": {"domain": [-0.8, 0.8], "nice": false, "zero": false}, "axis": null}}},
  {"data": {"name": "L"}, "transform": [{"filter": "datum.p=='A'"}],
   "mark": {"type": "line", "color": "black", "strokeWidth": 1.2, "clip": true},
   "encoding": {"x": {"field": "x", "type": "quantitative", "scale": {"domain": [1.9, 9.7], "nice": false, "zero": false}, "axis": null},
     "y": {"field": "c", "type": "quantitative", "scale": {"domain": [-0.8, 0.8], "nice": false, "zero": false}, "axis": null}}},
  {"data": {"name": "L"}, "transform": [{"filter": "datum.p=='A'"}],
   "mark": {"type": "line", "color": "black", "strokeWidth": 3, "clip": true},
   "encoding": {"x": {"field": "x", "type": "quantitative", "scale": {"domain": [1.9, 9.7], "nice": false, "zero": false}, "axis": {"orient": "top", "values": [2,2.5,3,3.5,4,4.5,5,5.5,6,6.5,7,7.5,8,8.5,9,9.5], "labels": false, "title": null}},
     "y": {"field": "m", "type": "quantitative", "scale": {"domain": [-0.8, 0.8], "nice": false, "zero": false}, "axis": {"orient": "right", "values": [-0.8,-0.6,-0.4,-0.2,0,0.2,0.4,0.6,0.8], "labels": false, "title": null}}}},
  {"data": {"name": "T"}, "transform": [{"filter": "datum.p=='A'"}],
   "mark": {"type": "text", "align": "right", "baseline": "middle", "dx": -4, "fontSize": 18, "fontWeight": "bold", "color": "black"},
   "encoding": {"x": {"field": "x", "type": "quantitative", "scale": {"domain": [1.9, 9.7], "nice": false, "zero": false}, "axis": null},
     "y": {"field": "y", "type": "quantitative", "scale": {"domain": [-0.8, 0.8], "nice": false, "zero": false}, "axis": null}, "text": {"field": "b"}}},
  {"data": {"name": "T"}, "transform": [{"filter": "datum.p=='A'"}],
   "mark": {"type": "text", "align": "left", "baseline": "middle", "dx": 5, "fontSize": 18, "color": "black"},
   "encoding": {"x": {"field": "x", "type": "quantitative", "scale": {"domain": [1.9, 9.7], "nice": false, "zero": false}, "axis": null},
     "y": {"field": "y", "type": "quantitative", "scale": {"domain": [-0.8, 0.8], "nice": false, "zero": false}, "axis": null}, "text": {"field": "t"}}}
 ]
},
{
 "width": 677, "height": 243,
 "resolve": {"axis": {"x": "independent", "y": "independent"}},
 "layer": [
  {"data": {"name": "L"}, "transform": [{"filter": "datum.p=='B'"}],
   "mark": {"type": "rule", "color": "#e2e2e2", "strokeWidth": 1, "strokeDash": [2, 2]},
   "encoding": {"x": {"field": "x", "type": "quantitative", "scale": {"domain": [1.9, 9.7], "nice": false, "zero": false},
     "axis": {"orient": "bottom", "values": [2,2.5,3,3.5,4,4.5,5,5.5,6,6.5,7,7.5,8,8.5,9,9.5], "format": ".1f", "title": "log₁₀(input infection concentration, SIN/mL)", "labelPadding": 11, "titlePadding": 5}}}},
  {"data": {"name": "dB"},
   "mark": {"type": "tick", "orient": "horizontal", "color": "#b8b8b8", "thickness": 2.5},
   "encoding": {"x": {"field": "x", "type": "quantitative", "scale": {"domain": [1.9, 9.7], "nice": false, "zero": false}, "axis": null},
     "y": {"field": "y", "type": "quantitative", "scale": {"domain": [-0.8, 0.8], "nice": false, "zero": false}, "axis": null},
     "size": {"field": "n", "type": "quantitative", "scale": {"domain": [0, 20], "range": [0, 21]}, "legend": null}}},
  {"data": {"values": [{"z": 0}]},
   "mark": {"type": "rule", "color": "#ff7f00", "strokeWidth": 1.5},
   "encoding": {"y": {"field": "z", "type": "quantitative", "scale": {"domain": [-0.8, 0.8], "nice": false, "zero": false},
     "axis": {"orient": "left", "values": [-0.8,-0.6,-0.4,-0.2,0,0.2,0.4,0.6,0.8], "title": "output/input (TCID₅₀/SIN)", "labelPadding": 11, "titlePadding": 1,
       "labelExpr": "datum.value==0?'1':'10'+(datum.value>0?'⁺':'⁻')+'⁰·'+(abs(datum.value)>0.7?'⁸':abs(datum.value)>0.5?'⁶':abs(datum.value)>0.3?'⁴':'²')"}}}},
  {"data": {"name": "L"}, "transform": [{"filter": "datum.p=='B'"}],
   "mark": {"type": "line", "color": "black", "strokeWidth": 1.2, "strokeDash": [5, 3], "clip": true},
   "encoding": {"x": {"field": "x", "type": "quantitative", "scale": {"domain": [1.9, 9.7], "nice": false, "zero": false}, "axis": null},
     "y": {"field": "a", "type": "quantitative", "scale": {"domain": [-0.8, 0.8], "nice": false, "zero": false}, "axis": null}}},
  {"data": {"name": "L"}, "transform": [{"filter": "datum.p=='B'"}],
   "mark": {"type": "line", "color": "black", "strokeWidth": 1.2, "strokeDash": [5, 3], "clip": true},
   "encoding": {"x": {"field": "x", "type": "quantitative", "scale": {"domain": [1.9, 9.7], "nice": false, "zero": false}, "axis": null},
     "y": {"field": "d", "type": "quantitative", "scale": {"domain": [-0.8, 0.8], "nice": false, "zero": false}, "axis": null}}},
  {"data": {"name": "L"}, "transform": [{"filter": "datum.p=='B'"}],
   "mark": {"type": "line", "color": "black", "strokeWidth": 1.2, "clip": true},
   "encoding": {"x": {"field": "x", "type": "quantitative", "scale": {"domain": [1.9, 9.7], "nice": false, "zero": false}, "axis": null},
     "y": {"field": "b", "type": "quantitative", "scale": {"domain": [-0.8, 0.8], "nice": false, "zero": false}, "axis": null}}},
  {"data": {"name": "L"}, "transform": [{"filter": "datum.p=='B'"}],
   "mark": {"type": "line", "color": "black", "strokeWidth": 1.2, "clip": true},
   "encoding": {"x": {"field": "x", "type": "quantitative", "scale": {"domain": [1.9, 9.7], "nice": false, "zero": false}, "axis": null},
     "y": {"field": "c", "type": "quantitative", "scale": {"domain": [-0.8, 0.8], "nice": false, "zero": false}, "axis": null}}},
  {"data": {"name": "L"}, "transform": [{"filter": "datum.p=='B'"}],
   "mark": {"type": "line", "color": "black", "strokeWidth": 3, "clip": true},
   "encoding": {"x": {"field": "x", "type": "quantitative", "scale": {"domain": [1.9, 9.7], "nice": false, "zero": false}, "axis": {"orient": "top", "values": [2,2.5,3,3.5,4,4.5,5,5.5,6,6.5,7,7.5,8,8.5,9,9.5], "labels": false, "title": null}},
     "y": {"field": "m", "type": "quantitative", "scale": {"domain": [-0.8, 0.8], "nice": false, "zero": false}, "axis": {"orient": "right", "values": [-0.8,-0.6,-0.4,-0.2,0,0.2,0.4,0.6,0.8], "labels": false, "title": null}}}},
  {"data": {"name": "T"}, "transform": [{"filter": "datum.p=='B'"}],
   "mark": {"type": "text", "align": "right", "baseline": "middle", "dx": -4, "fontSize": 18, "fontWeight": "bold", "color": "black"},
   "encoding": {"x": {"field": "x", "type": "quantitative", "scale": {"domain": [1.9, 9.7], "nice": false, "zero": false}, "axis": null},
     "y": {"field": "y", "type": "quantitative", "scale": {"domain": [-0.8, 0.8], "nice": false, "zero": false}, "axis": null}, "text": {"field": "b"}}},
  {"data": {"name": "T"}, "transform": [{"filter": "datum.p=='B'"}],
   "mark": {"type": "text", "align": "left", "baseline": "middle", "dx": 5, "fontSize": 18, "color": "black"},
   "encoding": {"x": {"field": "x", "type": "quantitative", "scale": {"domain": [1.9, 9.7], "nice": false, "zero": false}, "axis": null},
     "y": {"field": "y", "type": "quantitative", "scale": {"domain": [-0.8, 0.8], "nice": false, "zero": false}, "axis": null}, "text": {"field": "t"}}}
 ]
},
{
 "width": 677, "height": 243,
 "resolve": {"axis": {"x": "independent", "y": "independent"}},
 "layer": [
  {"data": {"name": "L"}, "transform": [{"filter": "datum.p=='C'"}],
   "mark": {"type": "rule", "color": "#e2e2e2", "strokeWidth": 1, "strokeDash": [2, 2]},
   "encoding": {"x": {"field": "x", "type": "quantitative", "scale": {"domain": [1.9, 9.7], "nice": false, "zero": false},
     "axis": {"orient": "bottom", "values": [2,2.5,3,3.5,4,4.5,5,5.5,6,6.5,7,7.5,8,8.5,9,9.5], "format": ".1f", "title": "log₁₀(input infection concentration, SIN/mL)", "labelPadding": 11, "titlePadding": 5}}}},
  {"data": {"name": "dC"},
   "mark": {"type": "tick", "orient": "horizontal", "color": "#b8b8b8", "thickness": 2.5},
   "encoding": {"x": {"field": "x", "type": "quantitative", "scale": {"domain": [1.9, 9.7], "nice": false, "zero": false}, "axis": null},
     "y": {"field": "y", "type": "quantitative", "scale": {"domain": [-0.8, 0.8], "nice": false, "zero": false}, "axis": null},
     "size": {"field": "n", "type": "quantitative", "scale": {"domain": [0, 20], "range": [0, 21]}, "legend": null}}},
  {"data": {"values": [{"z": 0}]},
   "mark": {"type": "rule", "color": "#ff7f00", "strokeWidth": 1.5},
   "encoding": {"y": {"field": "z", "type": "quantitative", "scale": {"domain": [-0.8, 0.8], "nice": false, "zero": false},
     "axis": {"orient": "left", "values": [-0.8,-0.6,-0.4,-0.2,0,0.2,0.4,0.6,0.8], "title": "output/input (TCID₅₀/SIN)", "labelPadding": 11, "titlePadding": 1,
       "labelExpr": "datum.value==0?'1':'10'+(datum.value>0?'⁺':'⁻')+'⁰·'+(abs(datum.value)>0.7?'⁸':abs(datum.value)>0.5?'⁶':abs(datum.value)>0.3?'⁴':'²')"}}}},
  {"data": {"name": "L"}, "transform": [{"filter": "datum.p=='C'"}],
   "mark": {"type": "line", "color": "black", "strokeWidth": 1.2, "strokeDash": [5, 3], "clip": true},
   "encoding": {"x": {"field": "x", "type": "quantitative", "scale": {"domain": [1.9, 9.7], "nice": false, "zero": false}, "axis": null},
     "y": {"field": "a", "type": "quantitative", "scale": {"domain": [-0.8, 0.8], "nice": false, "zero": false}, "axis": null}}},
  {"data": {"name": "L"}, "transform": [{"filter": "datum.p=='C'"}],
   "mark": {"type": "line", "color": "black", "strokeWidth": 1.2, "strokeDash": [5, 3], "clip": true},
   "encoding": {"x": {"field": "x", "type": "quantitative", "scale": {"domain": [1.9, 9.7], "nice": false, "zero": false}, "axis": null},
     "y": {"field": "d", "type": "quantitative", "scale": {"domain": [-0.8, 0.8], "nice": false, "zero": false}, "axis": null}}},
  {"data": {"name": "L"}, "transform": [{"filter": "datum.p=='C'"}],
   "mark": {"type": "line", "color": "black", "strokeWidth": 1.2, "clip": true},
   "encoding": {"x": {"field": "x", "type": "quantitative", "scale": {"domain": [1.9, 9.7], "nice": false, "zero": false}, "axis": null},
     "y": {"field": "b", "type": "quantitative", "scale": {"domain": [-0.8, 0.8], "nice": false, "zero": false}, "axis": null}}},
  {"data": {"name": "L"}, "transform": [{"filter": "datum.p=='C'"}],
   "mark": {"type": "line", "color": "black", "strokeWidth": 1.2, "clip": true},
   "encoding": {"x": {"field": "x", "type": "quantitative", "scale": {"domain": [1.9, 9.7], "nice": false, "zero": false}, "axis": null},
     "y": {"field": "c", "type": "quantitative", "scale": {"domain": [-0.8, 0.8], "nice": false, "zero": false}, "axis": null}}},
  {"data": {"name": "L"}, "transform": [{"filter": "datum.p=='C'"}],
   "mark": {"type": "line", "color": "black", "strokeWidth": 3, "clip": true},
   "encoding": {"x": {"field": "x", "type": "quantitative", "scale": {"domain": [1.9, 9.7], "nice": false, "zero": false}, "axis": {"orient": "top", "values": [2,2.5,3,3.5,4,4.5,5,5.5,6,6.5,7,7.5,8,8.5,9,9.5], "labels": false, "title": null}},
     "y": {"field": "m", "type": "quantitative", "scale": {"domain": [-0.8, 0.8], "nice": false, "zero": false}, "axis": {"orient": "right", "values": [-0.8,-0.6,-0.4,-0.2,0,0.2,0.4,0.6,0.8], "labels": false, "title": null}}}},
  {"data": {"name": "T"}, "transform": [{"filter": "datum.p=='C'"}],
   "mark": {"type": "text", "align": "right", "baseline": "middle", "dx": -4, "fontSize": 18, "fontWeight": "bold", "color": "black"},
   "encoding": {"x": {"field": "x", "type": "quantitative", "scale": {"domain": [1.9, 9.7], "nice": false, "zero": false}, "axis": null},
     "y": {"field": "y", "type": "quantitative", "scale": {"domain": [-0.8, 0.8], "nice": false, "zero": false}, "axis": null}, "text": {"field": "b"}}},
  {"data": {"name": "T"}, "transform": [{"filter": "datum.p=='C'"}],
   "mark": {"type": "text", "align": "left", "baseline": "middle", "dx": 5, "fontSize": 18, "color": "black"},
   "encoding": {"x": {"field": "x", "type": "quantitative", "scale": {"domain": [1.9, 9.7], "nice": false, "zero": false}, "axis": null},
     "y": {"field": "y", "type": "quantitative", "scale": {"domain": [-0.8, 0.8], "nice": false, "zero": false}, "axis": null}, "text": {"field": "t"}}}
 ]
}
]
}
